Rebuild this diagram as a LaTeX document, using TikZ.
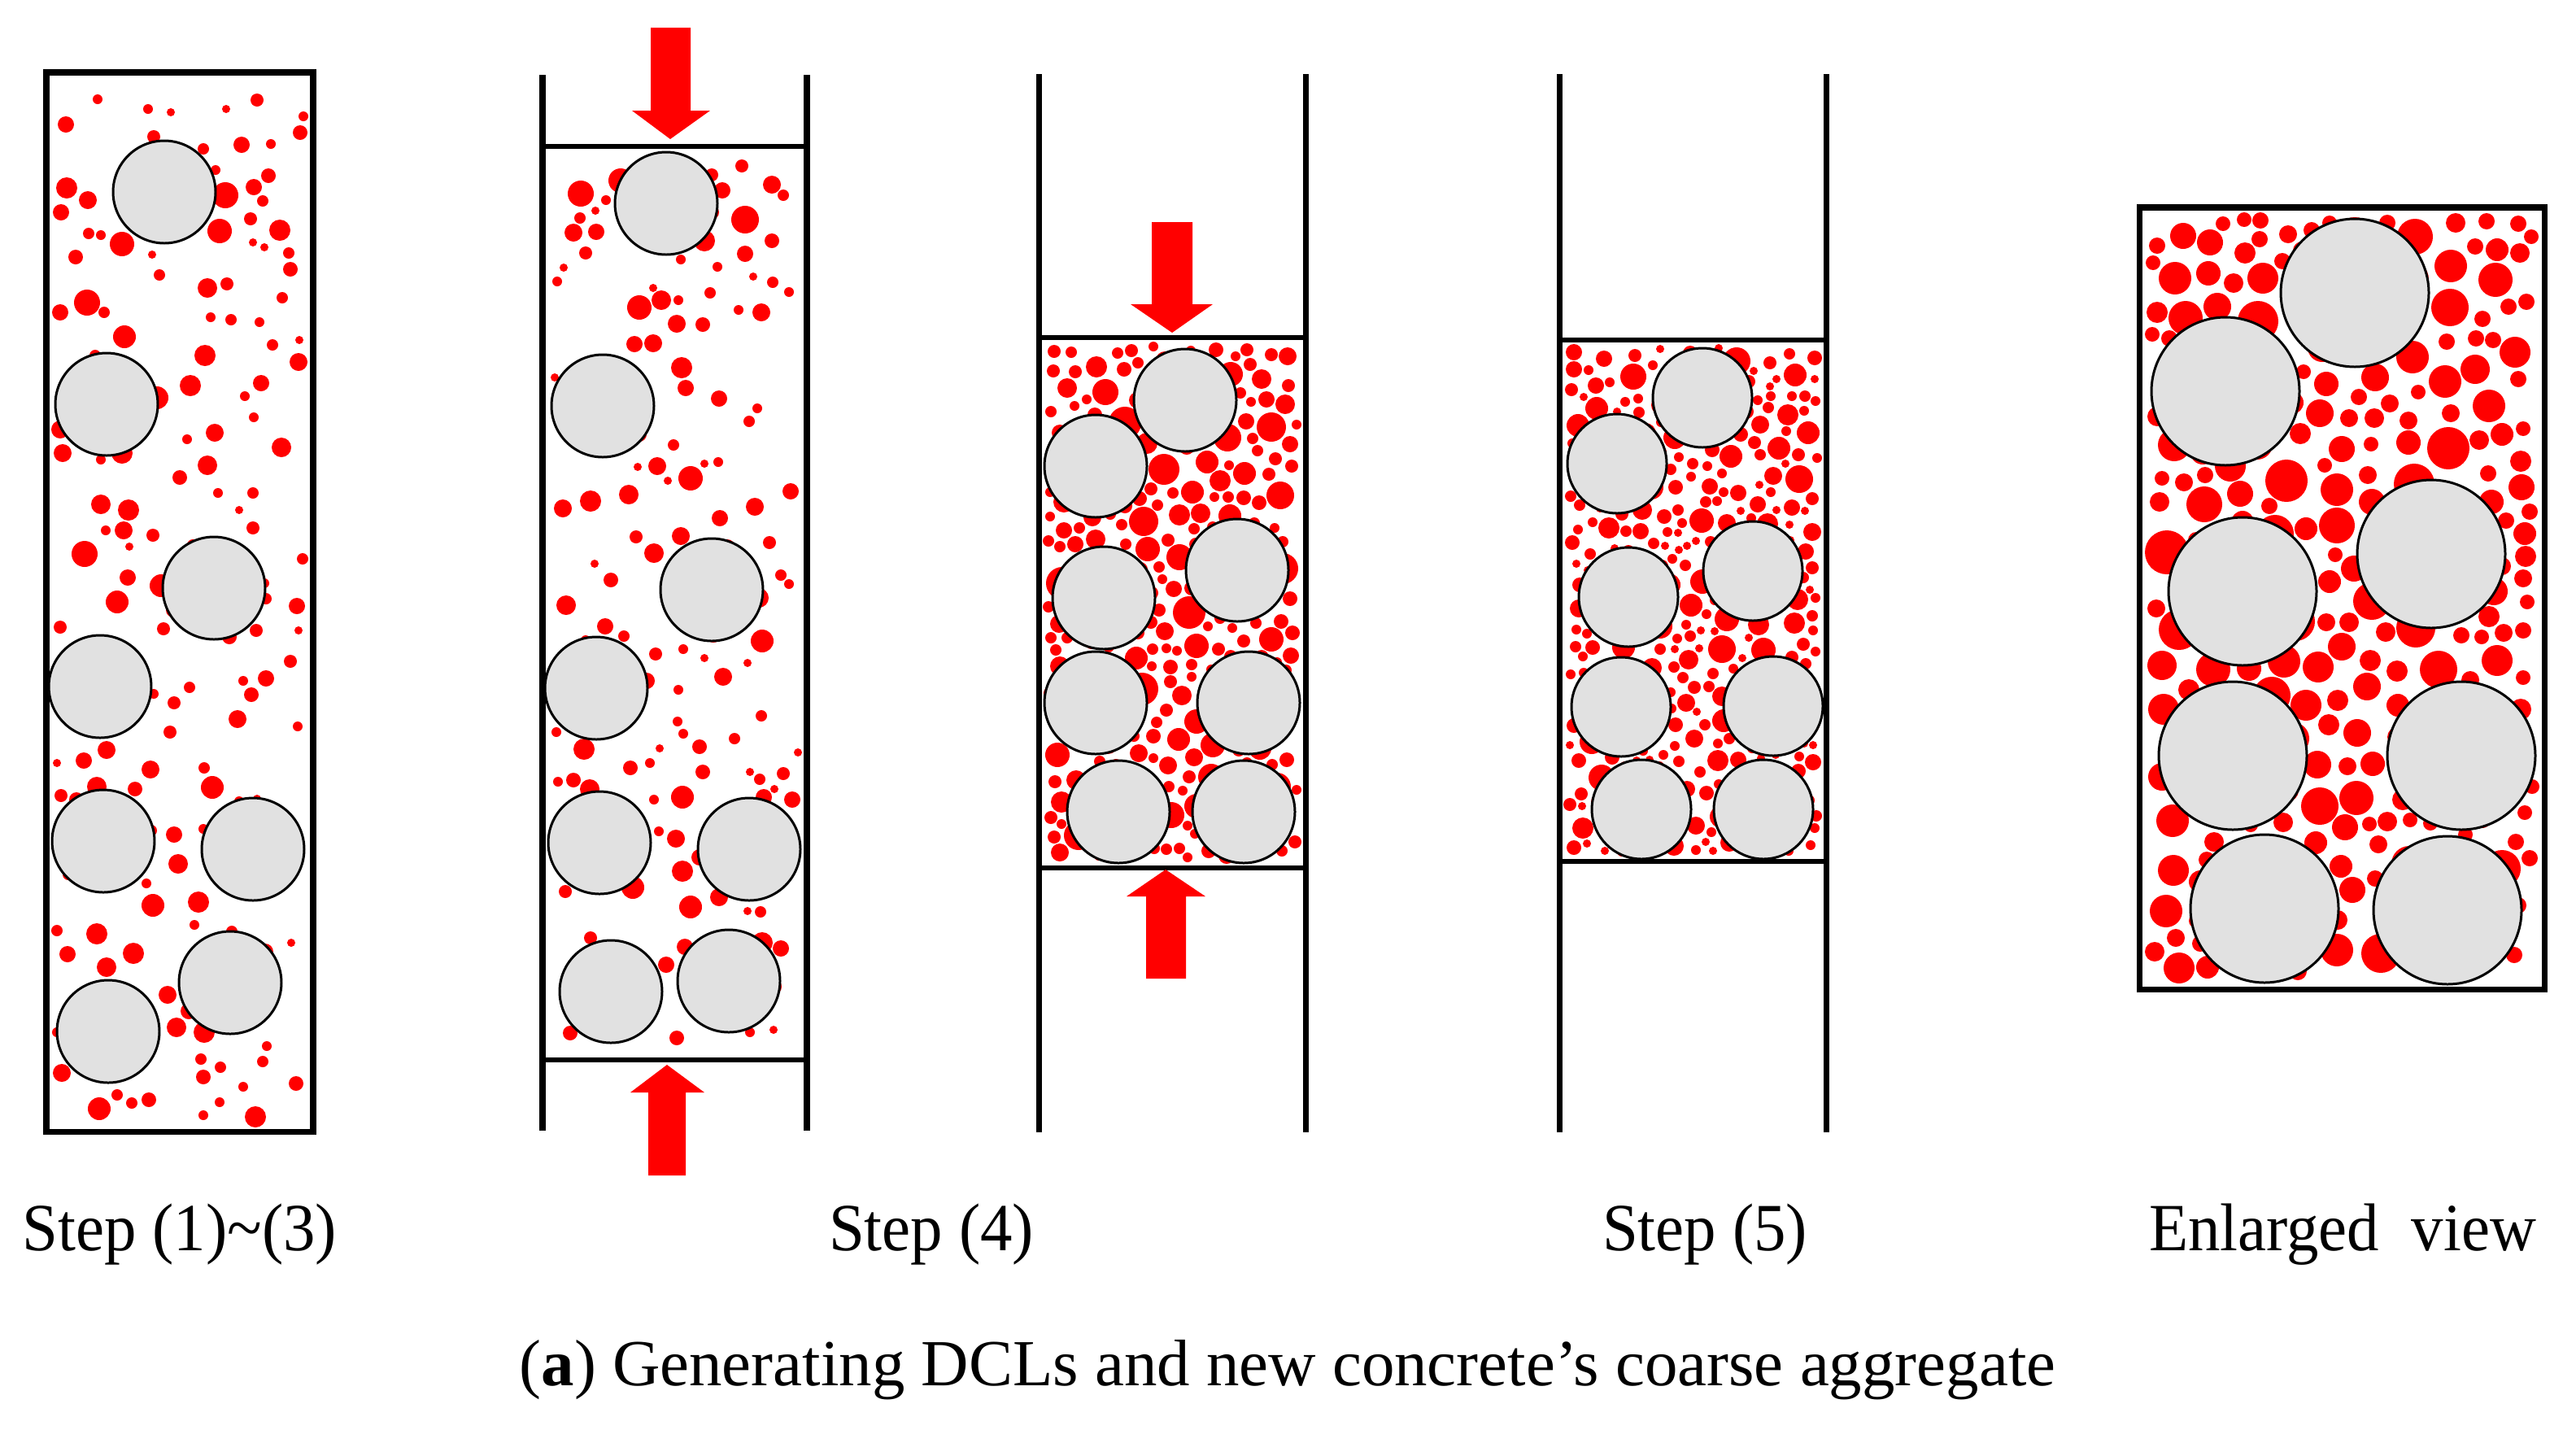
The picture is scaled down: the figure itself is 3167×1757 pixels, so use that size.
\documentclass[tikz,border=0pt]{standalone}
\usepackage{fontspec}
\setmainfont{Liberation Serif}
\usepackage{graphicx}
\definecolor{aggfill}{RGB}{225,225,225}
\definecolor{dotred}{RGB}{255,0,0}

\newcount\dX \newcount\dY \newcount\dR \newcount\ddx \newcount\ddy \newcount\dsum \newcount\attempt \newcount\rtop
\newif\iffits
\protected\def\chk#1#2#3{%
  \iffits
    \ddx=\numexpr\dX-#1\relax
    \ddy=\numexpr\dY-#2\relax
    \dsum=\numexpr\dR+#3+1\relax
    \ifnum\numexpr\ddx*\ddx+\ddy*\ddy\relax<\numexpr\dsum*\dsum\relax \fitsfalse\fi
  \fi}
% #1 x0 #2 y0 #3 x1 #4 y1 #5 tries #6 rmin #7 rmax #8 mode (0 sparse, 1 dense)
\def\scatter#1#2#3#4#5#6#7#8{%
  \attempt=0
  \loop
    \advance\attempt by 1
    \pgfmathrandominteger{\rndA}{0}{1000}%
    \pgfmathrandominteger{\rndB}{0}{1000}%
    \ifnum#8=0
      \ifnum\rndA>\rndB\relax \let\rndA\rndB \fi
      \dR=\numexpr #6+((#7-#6)*\rndA)/1000\relax
    \else
      \rtop=\numexpr #7-((#7-#6)*\attempt)/#5\relax
      \dR=\numexpr #6+((\rtop-#6)*\rndA)/1000\relax
    \fi
    \pgfmathrandominteger{\rndX}{0}{10000}%
    \pgfmathrandominteger{\rndY}{0}{10000}%
    \dX=\numexpr #1+\dR+((#3-#1-2*\dR)*\rndX)/10000\relax
    \dY=\numexpr #2+\dR+((#4-#2-2*\dR)*\rndY)/10000\relax
    \fitstrue\placed
    \iffits
      \fill[dotred] (\the\dX,\the\dY) circle[radius=\the\dR];
      \xdef\placed{\placed\chk{\the\dX}{\the\dY}{\the\dR}}%
    \fi
  \ifnum\attempt<#5 \repeat}
\def\setbig#1#2{% list x/y, radius
  \gdef\placed{}%
  \foreach \bx/\by in {#1}{\xdef\placed{\placed\chk{\bx}{\by}{\the\numexpr#2+2\relax}}}}

\begin{document}
\begin{tikzpicture}[x=0.01cm,y=-0.01cm,
  wall/.style={line width=2pt},
  plate/.style={line width=1.8pt},
  aggregate/.style={draw=black,line width=0.85pt,fill=aggfill},
  push/.style={fill=dotred},
  lbl/.style={anchor=base,inner sep=0pt,font=\fontsize{23.6pt}{28pt}\selectfont},
  captext/.style={anchor=base,inner sep=0pt,font=\fontsize{23pt}{28pt}\selectfont}]
\useasboundingbox (0,0) rectangle (3167,1757);
\pgfmathsetseed{4711}

% ---------- Panel 1: Step (1)~(3)
\def\bigA{202/236,131/497,263/723,123/844,127/1034,311/1044,283/1208,133/1268}
\setbig{\bigA}{63}
\scatter{62}{94}{380}{1386}{235}{5}{17}{0}
\foreach \bx/\by in \bigA {\draw[aggregate] (\bx,\by) circle[radius=63];}
\draw[wall] (57,89) rectangle (385,1391);

% ---------- Panel 2: Step (4) start
\def\bigB{819/250,741/499,875/725,733/846,737/1036,921/1044,751/1219,896/1206}
\setbig{\bigB}{63}
\scatter{672}{185}{987}{1298}{215}{5}{17}{0}
\foreach \bx/\by in \bigB {\draw[aggregate] (\bx,\by) circle[radius=63];}
\draw[wall] (667,92) -- (667,1390) (992,92) -- (992,1390);
\draw[plate] (667,180) -- (992,180) (667,1303) -- (992,1303);
\fill[push] (800,34) -- (849,34) -- (849,136) -- (873,136) -- (824,171) -- (777,136) -- (800,136) -- cycle;
\fill[push] (797,1445) -- (843,1445) -- (843,1343) -- (866,1343) -- (820,1309) -- (775,1343) -- (797,1343) -- cycle;

% ---------- Panel 3: Step (4) compressed
\def\bigC{1457/492,1347/573,1357/735,1521/701,1347/864,1535/864,1375/998,1529/998}
\setbig{\bigC}{63}
\scatter{1282}{420}{1600}{1062}{3800}{6}{21}{1}
\foreach \bx/\by in \bigC {\draw[aggregate] (\bx,\by) circle[radius=63];}
\draw[wall] (1277,91) -- (1277,1392) (1605,91) -- (1605,1392);
\draw[plate] (1277,415) -- (1605,415) (1277,1067) -- (1605,1067);
\fill[push] (1416,273) -- (1466,273) -- (1466,374) -- (1491,374) -- (1441,409) -- (1390,374) -- (1416,374) -- cycle;
\fill[push] (1409,1203) -- (1458,1203) -- (1458,1102) -- (1482,1102) -- (1433,1069) -- (1385,1102) -- (1409,1102) -- cycle;

% ---------- Panel 4: Step (5)
\def\bigD{2093/489,1988/570,2002/734,2155/702,1993/869,2180/868,2018/995,2168/995}
\setbig{\bigD}{61}
\scatter{1922}{423}{2240}{1054}{2800}{5}{17}{1}
\foreach \bx/\by in \bigD {\draw[aggregate] (\bx,\by) circle[radius=61];}
\draw[wall] (1917,91) -- (1917,1392) (2245,91) -- (2245,1392);
\draw[plate] (1917,418) -- (2245,418) (1917,1059) -- (2245,1059);

% ---------- Panel 5: Enlarged view
\def\bigE{2895/360,2736/481,2757/727,2989/681,2745/929,3026/929,2784/1117,3009/1119}
\setbig{\bigE}{91}
\scatter{2636}{261}{3122}{1210}{2800}{9}{28}{1}
\foreach \bx/\by in \bigE {\draw[aggregate] (\bx,\by) circle[radius=91];}
\draw[wall] (2630,255) rectangle (3128,1216);

% ---------- Labels
\node[lbl] (l1) at (221,1537) {\scalebox{0.95}[1]{Step (1)\textasciitilde(3)}};
\node[lbl] (l2) at (1145,1537) {\scalebox{0.95}[1]{Step (4)}};
\node[lbl] (l3) at (2096,1537) {\scalebox{0.95}[1]{Step (5)}};
\node[lbl] (l4) at (2880,1537) {\scalebox{0.95}[1]{Enlarged\ \ view}};
\node[captext] (captn) at (1583,1703) {(\textbf{a}) Generating DCLs and new concrete’s coarse aggregate};
\end{tikzpicture}
\end{document}
